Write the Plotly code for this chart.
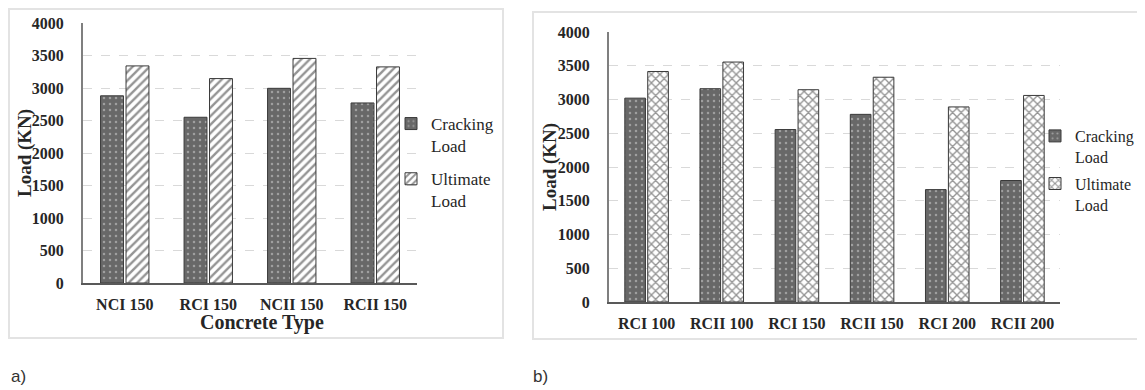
import plotly.graph_objects as go

# page body adds an 8px margin; figure sized to fit the 1145x390 window
OFF = 8
W, H = 1145 - OFF, 390 - OFF

# ---- data ----
cats_a = ["NCI 150", "RCI 150", "NCII 150", "RCII 150"]
crack_a = [2880, 2550, 2995, 2770]
ult_a = [3340, 3145, 3455, 3325]

cats_b = ["RCI 100", "RCII 100", "RCI 150", "RCII 150", "RCI 200", "RCII 200"]
crack_b = [3020, 3160, 2555, 2780, 1665, 1800]
ult_b = [3415, 3555, 3145, 3330, 2890, 3060]

y_ticks = [0, 500, 1000, 1500, 2000, 2500, 3000, 3500, 4000]

SERIF = "Liberation Serif"
TXT = "#262626"
CRACK = "#686868"
EDGE = "#3a3a3a"


def px(x):
    return (x - OFF) / W


def py(y):
    return 1 - (y - OFF) / H


fig = go.Figure()

# panel a
fig.add_trace(go.Bar(
    x=cats_a, y=crack_a, name="Cracking<br>Load", xaxis="x", yaxis="y",
    legend="legend", legendgroup="c1",
    marker=dict(color=CRACK, line=dict(color=EDGE, width=1),
                pattern=dict(shape=".", fgcolor="#d6d6d6", size=6, solidity=0.14, fillmode="overlay")),
))
fig.add_trace(go.Bar(
    x=cats_a, y=ult_a, name="Ultimate<br>Load", xaxis="x", yaxis="y",
    legend="legend", legendgroup="u1",
    marker=dict(color="white", line=dict(color=EDGE, width=1),
                pattern=dict(shape="/", fgcolor="#2a2a2a", size=6, solidity=0.4, fillmode="overlay")),
))
# panel b
fig.add_trace(go.Bar(
    x=cats_b, y=crack_b, name="Cracking<br>Load", xaxis="x2", yaxis="y2",
    legend="legend2", legendgroup="c2",
    marker=dict(color=CRACK, line=dict(color=EDGE, width=1),
                pattern=dict(shape=".", fgcolor="#d6d6d6", size=6, solidity=0.14, fillmode="overlay")),
))
fig.add_trace(go.Bar(
    x=cats_b, y=ult_b, name="Ultimate<br>Load", xaxis="x2", yaxis="y2",
    legend="legend2", legendgroup="u2",
    marker=dict(color="white", line=dict(color=EDGE, width=1),
                pattern=dict(shape="x", fgcolor="#2a2a2a", size=6, solidity=0.4, fillmode="overlay")),
))

tickfont = dict(family=SERIF, size=16, weight="bold", color=TXT)
yax = dict(range=[0, 4000], tickvals=y_ticks, showgrid=True, gridcolor="#d9d9d9",
           griddash="dash", gridwidth=1, zeroline=False, showline=True,
           linecolor="#7f7f7f", linewidth=2, tickfont=tickfont, ticks="",
           ticklabelstandoff=14, fixedrange=True)
xax = dict(showline=True, linecolor="#595959", linewidth=2, tickfont=tickfont,
           ticks="", ticklabelstandoff=6, showgrid=False, fixedrange=True)

fig.update_layout(
    width=W, height=H,
    margin=dict(l=0, r=0, t=0, b=0, autoexpand=False),
    paper_bgcolor="white", plot_bgcolor="white",
    barmode="group",
    xaxis=dict(domain=[px(83), px(417)], anchor="y", **xax),
    yaxis=dict(domain=[py(283), py(23)], anchor="x", **yax),
    xaxis2=dict(domain=[px(609), px(1060)], anchor="y2", **xax),
    yaxis2=dict(domain=[py(302), py(32)], anchor="x2", **yax),
    legend=dict(x=px(391), xanchor="left", y=py(106), yanchor="top",
                font=dict(family=SERIF, size=17, color=TXT), valign="top", tracegroupgap=8,
                bgcolor="rgba(0,0,0,0)", itemwidth=30),
    legend2=dict(x=px(1035), xanchor="left", y=py(119), yanchor="top",
                 font=dict(family=SERIF, size=16, color=TXT), valign="top", tracegroupgap=3,
                 bgcolor="rgba(0,0,0,0)", itemwidth=30),
    showlegend=True,
)
fig.update_layout(bargap=0.39, bargroupgap=0.1)

# panel borders
fig.add_shape(type="rect", xref="paper", yref="paper",
              x0=px(9), x1=px(503), y0=py(338), y1=py(9),
              line=dict(color="#e3e3e3", width=2), layer="below")
fig.add_shape(type="rect", xref="paper", yref="paper",
              x0=px(533), x1=px(1160), y0=py(339), y1=py(12),
              line=dict(color="#e3e3e3", width=2), layer="below")

titlefont = dict(family=SERIF, size=19, weight="bold", color=TXT)
fig.add_annotation(text="Load (KN)", xref="paper", yref="paper", x=px(25), y=py(153),
                   textangle=-90, showarrow=False, font=titlefont,
                   xanchor="center", yanchor="middle")
fig.add_annotation(text="Load (KN)", xref="paper", yref="paper", x=px(550), y=py(167),
                   textangle=-90, showarrow=False, font=titlefont,
                   xanchor="center", yanchor="middle")
fig.add_annotation(text="Concrete Type", xref="paper", yref="paper", x=px(262), y=py(322),
                   showarrow=False, font=dict(family=SERIF, size=20, weight="bold", color=TXT),
                   xanchor="center", yanchor="middle")

labfont = dict(family="Liberation Sans", size=17, color="#333333")
fig.add_annotation(text="a)", xref="paper", yref="paper", x=px(9), y=py(376),
                   showarrow=False, font=labfont, xanchor="left", yanchor="middle")
fig.add_annotation(text="b)", xref="paper", yref="paper", x=px(531), y=py(376),
                   showarrow=False, font=labfont, xanchor="left", yanchor="middle")

fig.write_html("out.html")
